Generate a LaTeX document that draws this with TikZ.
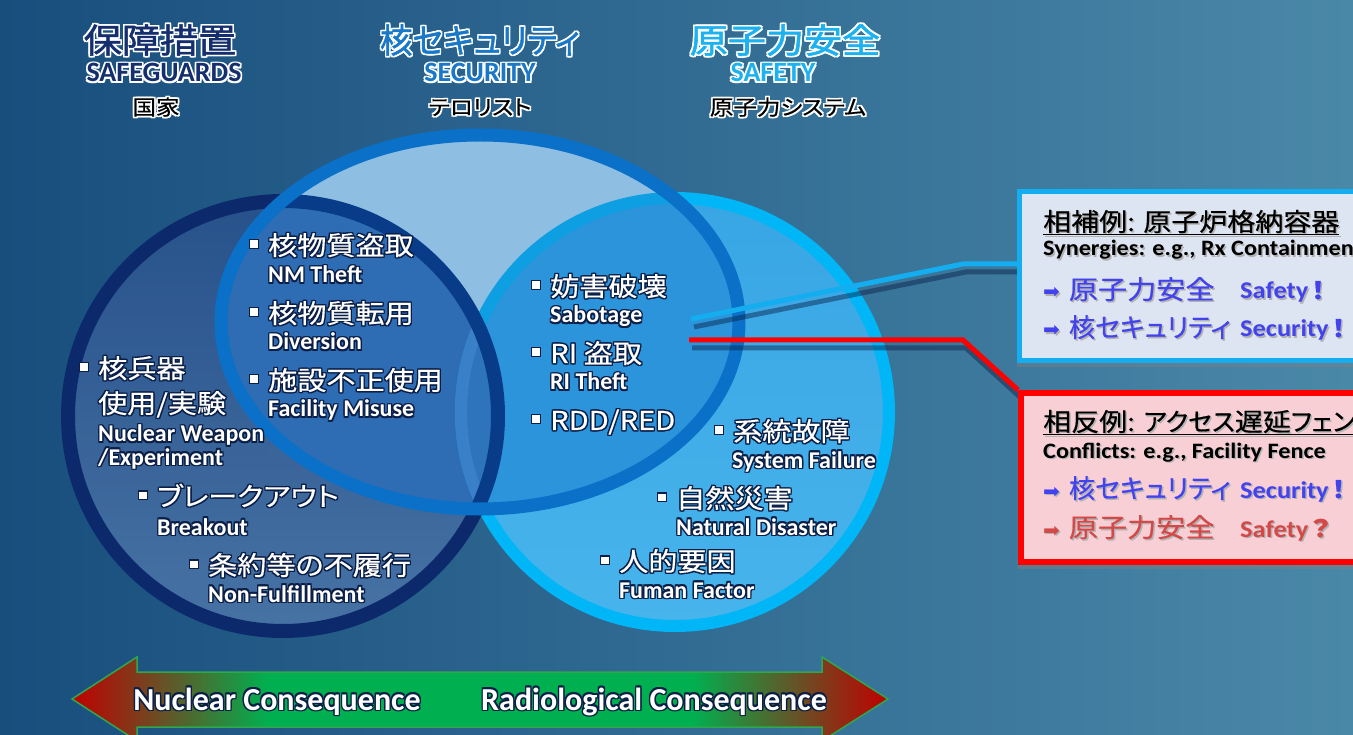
\documentclass[tikz,border=0pt]{standalone}
\usepackage{fontspec}
\usepackage{graphicx}
\usetikzlibrary{shadows}
\setmainfont{Carlito}
\newfontfamily\jp[FakeStretch=1.12, FakeBold=0.5, RawFeature={+palt}]{Noto Sans CJK JP}
\newfontfamily\jphead[FakeStretch=1.12, FakeBold=1.6, RawFeature={+palt}]{Noto Sans CJK JP}
\newfontfamily\enwide[FakeStretch=1.1]{Carlito}
\newfontfamily\arrowfont{DejaVu Sans}

\definecolor{bgl}{HTML}{184E7D}
\definecolor{bgr}{HTML}{4A88A8}
\definecolor{sgtop}{HTML}{2B5896}
\definecolor{sgbot}{HTML}{4D7CB2}
\definecolor{sgring}{HTML}{0C2A6B}
\definecolor{sftop}{HTML}{38A6E4}
\definecolor{sfbot}{HTML}{48B4EC}
\definecolor{sfring}{HTML}{00B6F6}
\definecolor{secfill}{HTML}{8EBFE3}
\definecolor{secring}{HTML}{0A70C8}
\definecolor{secsg}{HTML}{2E6CB4}
\definecolor{secsf}{HTML}{2B94DA}
\definecolor{secall}{HTML}{2D74BD}
\definecolor{secsgring}{HTML}{083C88}
\definecolor{secsfring}{HTML}{0E9EE2}
\definecolor{allring}{HTML}{3A80C8}
\definecolor{sgtitle}{HTML}{152F6E}
\definecolor{sectitle}{HTML}{1A78C8}
\definecolor{sftitle}{HTML}{1CB2F0}
\definecolor{glowdark}{HTML}{0B1E45}
\definecolor{synfill}{HTML}{DDE5F2}
\definecolor{synedge}{HTML}{14AEF0}
\definecolor{confill}{HTML}{F8CFD5}
\definecolor{conedge}{HTML}{FF0000}
\definecolor{tblue}{HTML}{4242EE}
\definecolor{tred}{HTML}{D44848}
\definecolor{arrred}{HTML}{C00000}
\definecolor{arrgreen}{HTML}{00B050}
\definecolor{arredge}{HTML}{2EA84E}

\pgfdeclarehorizontalshading{consq}{100bp}{color(0bp)=(arrred); color(25bp)=(arrred);
  color(37bp)=(arrgreen); color(63bp)=(arrgreen); color(75bp)=(arrred); color(100bp)=(arrred)}
\pgfdeclarelayer{front}
\pgfsetlayers{main,front}

% text with a glow round it
\newcommand\glowtxt[3]{%
  \makebox[0pt][l]{\color{#1}\hspace*{#2}#3}%
  \makebox[0pt][l]{\color{#1}\hspace*{-#2}#3}%
  \makebox[0pt][l]{\color{#1}\raisebox{#2}{#3}}%
  \makebox[0pt][l]{\color{#1}\raisebox{-#2}{#3}}%
  \makebox[0pt][l]{\color{#1}\hspace*{#2}\raisebox{#2}{#3}}%
  \makebox[0pt][l]{\color{#1}\hspace*{-#2}\raisebox{#2}{#3}}%
  \makebox[0pt][l]{\color{#1}\hspace*{#2}\raisebox{-#2}{#3}}%
  \makebox[0pt][l]{\color{#1}\hspace*{-#2}\raisebox{-#2}{#3}}%
  #3}
\newcommand\darkglow[1]{\glowtxt{glowdark}{1.2pt}{#1}}
\newcommand\whiteglow[1]{\glowtxt{white}{1.5pt}{#1}}
\newcommand\boxshade[1]{\makebox[0pt][l]{\color{black!30}\hspace*{1.5pt}\raisebox{-1.5pt}{#1}}#1}
\newcommand\sqbul{\rule[7pt]{7.5pt}{7.5pt}\hspace{10.5pt}}
\newcommand\boxarrow{{\arrowfont\fontsize{20}{20}\selectfont ➡}\hspace{9pt}}

\begin{document}
\begin{tikzpicture}[x=1pt, y=-1pt,
    item/.style={anchor=base west, inner sep=0pt, text=white, font=\jp\fontsize{26}{28}\selectfont},
    sub/.style={anchor=base west, inner sep=0pt, text=white, font=\bfseries\fontsize{24}{26}\selectfont},
    headjp/.style={anchor=base, inner sep=0pt, font=\jphead\fontsize{34}{36}\selectfont},
    headen/.style={anchor=base, inner sep=0pt, font=\bfseries\fontsize{28}{30}\selectfont},
    who/.style={anchor=base, inner sep=0pt, text=black, font=\jp\fontsize{21}{23}\selectfont},
    boxhd/.style={anchor=base west, inner sep=0pt, text=black, font=\jp\fontsize{25}{27}\selectfont},
    boxen/.style={anchor=base west, inner sep=0pt, text=black, font=\enwide\bfseries\fontsize{22}{24}\selectfont},
    boxrow/.style={anchor=base west, inner sep=0pt, font=\jp\fontsize{26}{28}\selectfont},
    boxtag/.style={anchor=base west, inner sep=0pt, font=\enwide\bfseries\fontsize{24}{26}\selectfont},
    notebox/.style={draw, line width=5pt, minimum width=370pt, minimum height=169pt, anchor=north west,
      inner sep=0pt, drop shadow={shadow xshift=-3pt, shadow yshift=-7pt, opacity=.45}},
    conseq/.style={anchor=base, inner sep=0pt, text=white, font=\bfseries\fontsize{32}{34}\selectfont},
    link/.style={line width=5pt}
  ]
    % Draw the background
    \fill[left color=bgl, right color=bgr] (0,0) rectangle (1353,735);
    \useasboundingbox (0,0) rectangle (1353,735);

    % Centres of the three circles
    \coordinate (sgc) at (283,416);
    \coordinate (sec) at (480,322);
    \coordinate (sfc) at (675,412);

    % Draw the safety circle
    \fill[top color=sftop, bottom color=sfbot] (sfc) circle[radius=214];
    \draw[sfring, line width=12pt] (sfc) circle[radius=214];

    % Draw the safeguards circle
    \fill[top color=sgtop, bottom color=sgbot, fill opacity=.92] (sgc) circle[radius=215];
    \draw[sgring, line width=14pt] (sgc) circle[radius=215];

    % Overlaps inside the security ellipse
    \begin{scope}
        \clip (sec) ellipse[x radius=259, y radius=187];
        \fill[secfill] (sec) ellipse[x radius=259, y radius=187];
        \fill[secsg] (sgc) circle[radius=215];
        \fill[secsf] (sfc) circle[radius=214];
        \draw[secsfring, line width=12pt] (sfc) circle[radius=214];
        \begin{scope}
            \clip (sgc) circle[radius=215];
            \fill[secall] (sfc) circle[radius=214];
            \draw[allring, line width=12pt] (sfc) circle[radius=214];
        \end{scope}
        \draw[secsgring, line width=14pt] (sgc) circle[radius=215];
    \end{scope}

    % Draw the security ellipse
    \draw[secring, line width=13pt] (sec) ellipse[x radius=259, y radius=187];

    % Titles
    \node[headjp, text=sgtitle] (sgjp) at (160,53) {\whiteglow{保障措置}};
    \node[headen, text=sgtitle] (sgen) at (164,82) {\whiteglow{SAFEGUARDS}};
    \node[who] (sgwho) at (156,115) {\whiteglow{国家}};
    \node[headjp, text=sectitle] (secjp) at (480,53) {\scalebox{0.85}[1]{\whiteglow{核セキュリティ}}};
    \node[headen, text=sectitle] (secen) at (480,82) {\whiteglow{SECURITY}};
    \node[who] (secwho) at (480,115) {\whiteglow{テロリスト}};
    \node[headjp, text=sftitle] (sfjp) at (785,53) {\whiteglow{原子力安全}};
    \node[headen, text=sftitle] (sfen) at (773,82) {\whiteglow{SAFETY}};
    \node[who] (sfwho) at (788,115) {\whiteglow{原子力システム}};

    % Safeguards items
    \node[item] (nw) at (80,378) {\darkglow{\sqbul 核兵器}};
    \node[item] (nw2) at (98,413) {\darkglow{使用/実験}};
    \node[sub] (nwen) at (98,442) {\darkglow{Nuclear Weapon}};
    \node[sub] (nwen2) at (98,465) {\darkglow{/Experiment}};
    \node[item] (bo) at (139,506) {\darkglow{\sqbul ブレークアウト}};
    \node[sub] (boen) at (157,535) {\darkglow{Breakout}};
    \node[item] (nf) at (190,575) {\darkglow{\sqbul 条約等の不履行}};
    \node[sub] (nfen) at (208,602) {\darkglow{Non-Fulfillment}};

    % Safeguards and security items
    \node[item] (nmth) at (250,255) {\darkglow{\sqbul 核物質盗取}};
    \node[sub] (nmthen) at (268,283) {\darkglow{NM Theft}};
    \node[item] (dv) at (250,323) {\darkglow{\sqbul 核物質転用}};
    \node[sub] (dven) at (268,350) {\darkglow{Diversion}};
    \node[item] (fm) at (250,390) {\darkglow{\sqbul 施設不正使用}};
    \node[sub] (fmen) at (268,417) {\darkglow{Facility Misuse}};

    % Security and safety items
    \node[item] (sab) at (532,296) {\darkglow{\sqbul 妨害破壊}};
    \node[sub] (saben) at (550,323) {\darkglow{Sabotage}};
    \node[item] (rith) at (532,363) {\darkglow{\sqbul RI 盗取}};
    \node[sub] (rithen) at (550,390) {\darkglow{RI Theft}};
    \node[item] (rdd) at (532,430) {\darkglow{\sqbul RDD/RED}};

    % Safety items
    \node[item] (sysf) at (715,441) {\darkglow{\sqbul 系統故障}};
    \node[sub] (sysfen) at (732,468) {\darkglow{System Failure}};
    \node[item] (natd) at (658,508) {\darkglow{\sqbul 自然災害}};
    \node[sub] (natden) at (676,535) {\darkglow{Natural Disaster}};
    \node[item] (humf) at (601,571) {\darkglow{\sqbul 人的要因}};
    \node[sub] (humfen) at (619,598) {\darkglow{Fuman Factor}};

    % Bottom double arrow
    \shadedraw[shading=consq, draw=arredge, line width=1.5pt] (72,699) -- (137,657) -- (137,672)
        -- (822,672) -- (822,657) -- (888,699) -- (822,741) -- (822,727) -- (137,727) -- (137,741) -- cycle;
    \node[conseq] (nucc) at (277,710) {\darkglow{Nuclear Consequence}};
    \node[conseq] (radc) at (654,710) {\darkglow{Radiological Consequence}};

    % Boxes on the right
    \begin{pgfonlayer}{front}
        \node[notebox, draw=synedge, fill=synfill] (syn) at (1017,189) {};
        \node[boxhd] (synhd) at (1043,231) {\boxshade{\underline{相補例: 原子炉格納容器}}};
        \node[boxen] (synen) at (1043,256) {\boxshade{Synergies: e.g., Rx Containment}};
        \node[boxrow, text=tblue] (syn1) at (1043,299) {\boxshade{\boxarrow 原子力安全}};
        \node[boxtag, text=tblue] (syn1en) at (1240,299) {\boxshade{Safety\hspace{3pt}{\jp ！}}};
        \node[boxrow, text=tblue] (syn2) at (1043,337) {\boxshade{\boxarrow\scalebox{0.9}[1]{核セキュリティ}}};
        \node[boxtag, text=tblue] (syn2en) at (1240,337) {\boxshade{Security\hspace{3pt}{\jp ！}}};

        \node[notebox, draw=conedge, fill=confill, line width=6pt] (con) at (1018,390) {};
        \node[boxhd] (conhd) at (1043,431) {\boxshade{\underline{相反例: \scalebox{0.9}[1]{アクセス}遅延\scalebox{0.9}[1]{フェンス}}}};
        \node[boxen] (conen) at (1043,458) {\boxshade{Conflicts: e.g., Facility Fence}};
        \node[boxrow, text=tblue] (con1) at (1043,498) {\boxshade{\boxarrow\scalebox{0.9}[1]{核セキュリティ}}};
        \node[boxtag, text=tblue] (con1en) at (1240,498) {\boxshade{Security\hspace{3pt}{\jp ！}}};
        \node[boxrow, text=tred] (con2) at (1043,537) {\boxshade{\boxarrow 原子力安全}};
        \node[boxtag, text=tred] (con2en) at (1240,537) {\boxshade{Safety\hspace{3pt}{\jp ？}}};
    \end{pgfonlayer}

    % Links from the circles to the boxes
    \coordinate (synfrom) at (691,319);
    \coordinate (synbend) at (963,264);
    \coordinate (confrom) at (689,340);
    \coordinate (conbend) at (963,340);
    \draw[link, glowdark, opacity=.45, transform canvas={shift={(3pt,-8pt)}}] (synfrom) -- (synbend) -- (syn.west |- synbend);
    \draw[link, glowdark, opacity=.45, transform canvas={shift={(3pt,-8pt)}}] (confrom) -- (conbend) -- (con.north west);
    \draw[link, synedge] (synfrom) -- (synbend) -- (syn.west |- synbend);
    \draw[link, conedge] (confrom) -- (conbend) -- (con.north west);
\end{tikzpicture}
\end{document}
